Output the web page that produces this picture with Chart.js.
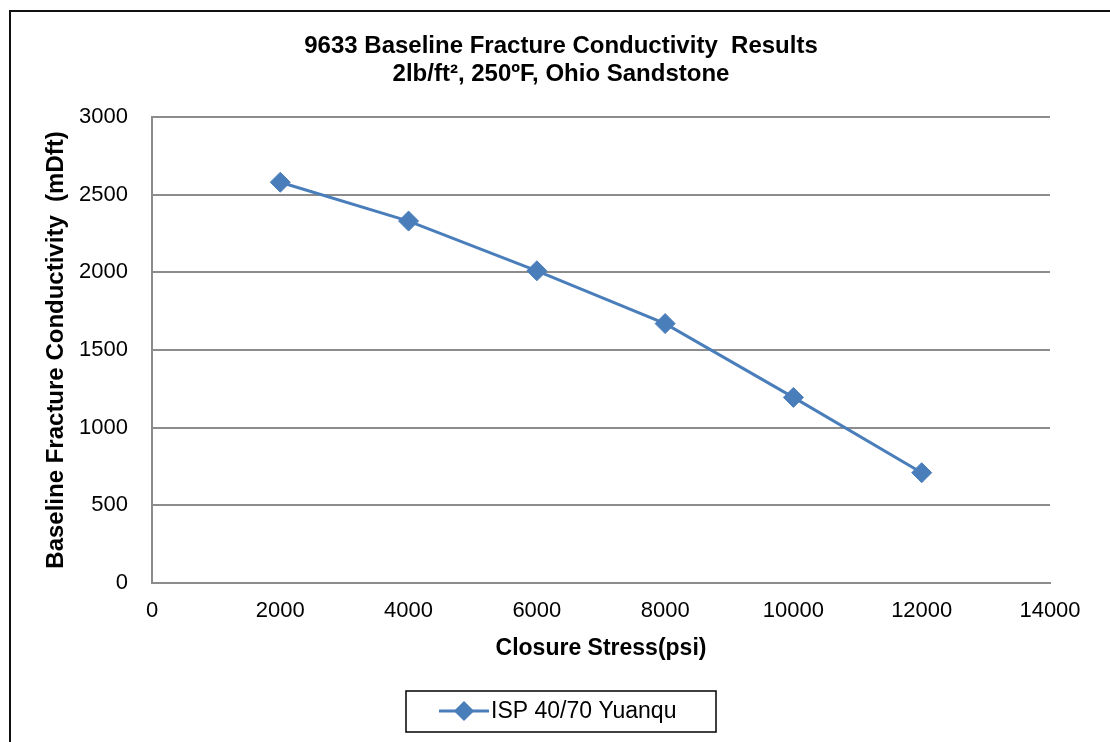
<!DOCTYPE html>
<html>
<head>
<meta charset="utf-8">
<script src="https://cdn.jsdelivr.net/npm/chart.js@4.4.1/dist/chart.umd.min.js"></script>
<style>
  html, body { margin: 0; padding: 0; background: #fff; }
  #wrap { width: 1110px; height: 742px; }
</style>
</head>
<body>
<div id="wrap"><canvas id="chart"></canvas></div>
<script>
// --- datos ---
const stressPsi = [2000, 4000, 6000, 8000, 10000, 12000];
const conductivity = [2580, 2330, 2010, 1670, 1195, 710];
const seriesName = "ISP 40/70 Yuanqu";
const titleLines = ["9633 Baseline Fracture Conductivity  Results", "2lb/ft\u00b2, 250\u00baF, Ohio Sandstone"];
const xTitle = "Closure Stress(psi)";
const yTitle = "Baseline Fracture Conductivity  (mDft)";
const xRange = [0, 14000], xStep = 2000;
const yRange = [0, 3000], yStep = 500;

const FONT = "'Liberation Sans', Arial, sans-serif";
const BLUE = "#4a7ebb";
const GRID = "#8c8c8c";

// marco exterior + fondo + titulo centrado como en Excel
const framePlugin = {
  id: "frame",
  beforeDraw(chart){
    const c = chart.ctx;
    c.save();
    c.fillStyle = "#fff";
    c.fillRect(0, 0, chart.width, chart.height);
    c.strokeStyle = "#111";
    c.lineWidth = 2;
    c.strokeRect(10, 11, chart.width + 20, chart.height + 20);
    c.fillStyle = "#000";
    c.font = "bold 24px " + FONT;
    c.textAlign = "center";
    c.textBaseline = "middle";
    titleLines.forEach((t, i) => c.fillText(t, 561, 46 + i * 28));
    c.restore();
  }
};

// leyenda tipo Excel: caja con linea + rombo
const legendBox = {
  id: "legendBox",
  afterDraw(chart){
    const c = chart.ctx;
    const ds = chart.data.datasets[0];
    const cy = 711;
    c.save();
    c.strokeStyle = "#000";
    c.lineWidth = 1.5;
    c.strokeRect(406, 691, 310, 41);
    c.strokeStyle = ds.borderColor;
    c.lineWidth = 3;
    c.beginPath(); c.moveTo(439, cy); c.lineTo(489, cy); c.stroke();
    Chart.helpers.drawPoint(c, { pointStyle: "rectRot", radius: 8, rotation: 0, borderWidth: 1 }, 464, cy);
    c.fillStyle = ds.borderColor;
    c.fill();
    c.fillStyle = "#000";
    c.font = "23px " + FONT;
    c.textBaseline = "middle";
    c.fillText(ds.label, 491, cy + 1);
    c.restore();
  }
};

new Chart(document.getElementById("chart"), {
  type: "scatter",
  data: {
    datasets: [{
      label: seriesName,
      data: stressPsi.map((x, i) => ({ x, y: conductivity[i] })),
      showLine: true,
      borderColor: BLUE,
      backgroundColor: BLUE,
      borderWidth: 3,
      pointStyle: "rectRot",
      pointRadius: 10,
      pointBorderWidth: 1,
      pointBackgroundColor: BLUE,
      pointBorderColor: BLUE
    }]
  },
  options: {
    responsive: true,
    maintainAspectRatio: false,
    animation: false,
    devicePixelRatio: 1,
    layout: { padding: { top: 117, left: 38, right: 60, bottom: 76 } },
    plugins: {
      legend: { display: false },
      tooltip: { enabled: false },
      title: { display: false }
    },
    scales: {
      x: {
        type: "linear",
        min: xRange[0], max: xRange[1],
        afterFit(s){ s.height = 83; },
        ticks: {
          stepSize: xStep,
          color: "#000",
          padding: 15,
          font: { family: FONT, size: 22 },
          callback: v => String(v)
        },
        grid: { display: false, drawTicks: false },
        border: { display: true, color: GRID, width: 2 },
        title: {
          display: true, text: xTitle, color: "#000",
          font: { family: FONT, size: 23, weight: "bold", lineHeight: 1.2 },
          padding: { top: 4, bottom: 4 }
        }
      },
      y: {
        min: yRange[0], max: yRange[1],
        afterFit(s){ s.width = 114; },
        ticks: {
          stepSize: yStep,
          color: "#000",
          padding: 24,
          font: { family: FONT, size: 22 },
          callback: v => String(v)
        },
        grid: { color: GRID, lineWidth: 2, drawTicks: false },
        border: { display: true, color: GRID, width: 2 },
        title: {
          display: true, text: yTitle, color: "#000",
          font: { family: FONT, size: 24, weight: "bold", lineHeight: 1.2 },
          padding: { top: 4, bottom: 4 }
        }
      }
    }
  },
  plugins: [framePlugin, legendBox]
});
</script>
</body>
</html>
